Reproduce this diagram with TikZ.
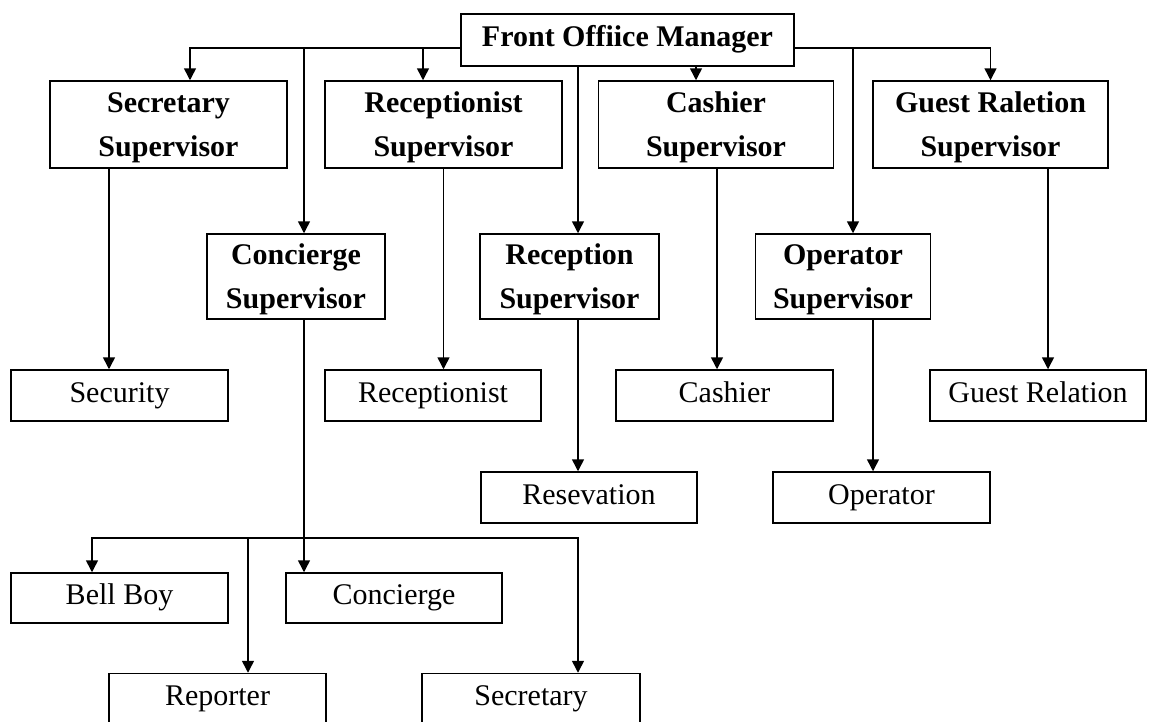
\documentclass[tikz,border=0pt]{standalone}
\usepackage{fontspec}
\setmainfont{Liberation Serif}
\usetikzlibrary{arrows.meta}
\begin{document}
\begin{tikzpicture}[x=1pt,y=-1pt,
  box/.style={draw, line width=1.5pt, inner sep=0pt, align=center,
    text height=20pt, text depth=7pt,
    font=\fontsize{30}{44}\selectfont},
  supbox/.style={draw, line width=1.5pt, inner sep=0pt, align=center,
    text depth=0pt, font=\fontsize{30}{44}\selectfont\bfseries},
  arr/.style={line width=1.5pt, -{Triangle[width=12pt,length=12pt]}},
  ln/.style={line width=1.5pt}]
\useasboundingbox (0,0) rectangle (1156,721);
\clip (0,0) rectangle (1156,721);
% manager
\node[supbox, text height=20pt, text depth=7pt, minimum width=333pt, minimum height=52pt] (mgr) at (627.5,40) {Front Offiice Manager};
% level 2 (top row)
\node[supbox, minimum width=237pt, minimum height=87pt] (ss) at (168.5,124.5) {Secretary\\Supervisor};
\node[supbox, minimum width=237pt, minimum height=87pt] (rs) at (443.5,124.5) {Receptionist\\Supervisor};
\node[supbox, minimum width=235pt, minimum height=87pt] (cs) at (716,124.5) {Cashier\\Supervisor};
\node[supbox, minimum width=235pt, minimum height=87pt] (gs) at (990.5,124.5) {Guest Raletion\\Supervisor};
% level 2 (second row)
\node[supbox, minimum width=178pt, minimum height=85pt] (cons) at (296,276.5) {Concierge\\Supervisor};
\node[supbox, minimum width=179pt, minimum height=85pt] (recs) at (569.5,276.5) {Reception\\Supervisor};
\node[supbox, minimum width=175pt, minimum height=85pt] (ops) at (843,276.5) {Operator\\Supervisor};
% level 3
\node[box, minimum width=217pt, minimum height=51pt] (security) at (119.5,395.5) {Security};
\node[box, minimum width=216pt, minimum height=51pt] (receptionist) at (433,395.5) {Receptionist};
\node[box, minimum width=217pt, minimum height=51pt] (cashier) at (724.5,395.5) {Cashier};
\node[box, minimum width=216pt, minimum height=51pt] (guestrel) at (1038,395.5) {Guest Relation};
\node[box, minimum width=216pt, minimum height=51pt] (resv) at (589,497.5) {Resevation};
\node[box, minimum width=217pt, minimum height=51pt] (oper) at (881.5,497.5) {Operator};
% bottom
\node[box, minimum width=217pt, minimum height=50pt] (bellboy) at (119.5,598) {Bell Boy};
\node[box, minimum width=216pt, minimum height=50pt] (concierge) at (394,598) {Concierge};
\node[box, minimum width=217pt, minimum height=50pt] (reporter) at (217.5,698.5) {Reporter};
\node[box, minimum width=218pt, minimum height=50pt] (secretary) at (531,698.5) {Secretary};
% buses from manager
\coordinate (mbL) at ([yshift=-8pt]mgr.west);
\coordinate (mbR) at ([yshift=-8pt]mgr.east);
\draw[arr] (mbL) -| ([xshift=21.5pt]ss.north);
\draw[arr] (mbL) -| ([xshift=8pt]cons.north);
\draw[arr] (mbL) -| ([xshift=-20.5pt]rs.north);
\draw[arr] ([xshift=-49.5pt]mgr.south) -- ([xshift=-49.5pt]mgr.south |- recs.north);
\draw[arr] ([xshift=68.5pt]mgr.south) -- ([xshift=68.5pt]mgr.south |- cs.north);
\draw[arr] (mbR) -| ([xshift=10pt]ops.north);
\draw[arr] (mbR) -| (gs.north);
% supervisors to staff
\draw[arr] ([xshift=-59.5pt]ss.south) -- ([xshift=-59.5pt]ss.south |- security.north);
\draw[arr] (rs.south) -- (rs.south |- receptionist.north);
\draw[arr] ([xshift=1pt]cs.south) -- ([xshift=1pt]cs.south |- cashier.north);
\draw[arr] ([xshift=57.5pt]gs.south) -- ([xshift=57.5pt]gs.south |- guestrel.north);
\draw[arr] ([xshift=8.5pt]recs.south) -- ([xshift=8.5pt]recs.south |- resv.north);
\draw[arr] ([xshift=30pt]ops.south) -- ([xshift=30pt]ops.south |- oper.north);
% concierge bus
\coordinate (cbus) at (304,538);
\draw[ln] ([xshift=8pt]cons.south) -- (cbus);
\draw[arr] (cbus) -- (cbus |- concierge.north);
\draw[arr] (cbus) -| ([xshift=-27.5pt]bellboy.north);
\draw[arr] (cbus) -| ([xshift=30.5pt]reporter.north);
\draw[arr] (cbus) -| ([xshift=47pt]secretary.north);
\end{tikzpicture}
\end{document}
